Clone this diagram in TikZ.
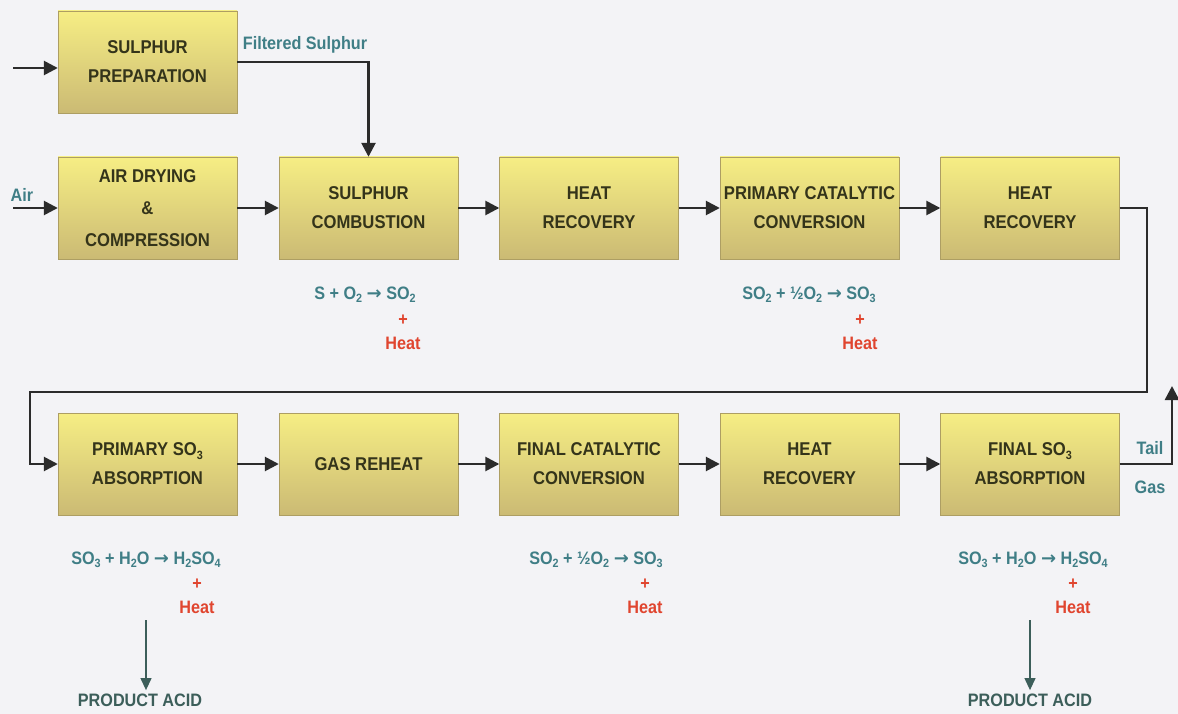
\documentclass[tikz,border=0pt]{standalone}
\usepackage{fontspec}
\setmainfont{Liberation Sans}[FakeStretch=0.9]
\newfontfamily\arrowfont{DejaVu Sans}
\usetikzlibrary{arrows.meta}

\definecolor{bgpaper}{HTML}{F3F3F6}
\definecolor{boxtop}{HTML}{F6EE84}
\definecolor{boxbottom}{HTML}{CBBA74}
\definecolor{boxink}{HTML}{34341A}
\definecolor{eqteal}{HTML}{3F7E86}
\definecolor{heatred}{HTML}{E0452F}
\definecolor{acidink}{HTML}{3C5E5A}
\definecolor{lineink}{HTML}{2B2B2B}

% small lowered index for formulas
\newcommand{\lowidx}[1]{\raisebox{-0.35ex}{\fontsize{12}{12}\selectfont #1}}
% reaction arrow
\newcommand{\yields}{{\arrowfont\bfseries →}}

\begin{document}
\begin{tikzpicture}[x=1pt,y=-1pt]
    % Style definitions
    \tikzset{
        % process box
        process/.style={rectangle, minimum width=179pt, minimum height=102pt,
            top color=boxtop, bottom color=boxbottom, draw=boxbottom!85!black,
            line width=0.4pt, align=center, text=boxink,
            font=\fontsize{18.5}{29}\selectfont\bfseries},
        % main gas flow
        flow/.style={draw=lineink, line width=2.6pt,
            -{Triangle[length=14pt,width=14pt]}},
        % acid drawn off
        acid flow/.style={draw=acidink, line width=1.2pt,
            -{Triangle[length=12pt,width=11pt]}},
        % texts
        stream label/.style={text=eqteal, font=\fontsize{18}{20}\selectfont\bfseries},
        eq text/.style={text=eqteal, font=\fontsize{18}{20}\selectfont\bfseries},
        heat text/.style={text=heatred, font=\fontsize{18}{20}\selectfont\bfseries},
        acid text/.style={text=acidink, font=\fontsize{18}{20}\selectfont\bfseries}
    }
    \fill[bgpaper] (0,0) rectangle (1178,714);
    \useasboundingbox (0,0) rectangle (1178,714);

    % Feed row
    \node[process] (prep) at (147.5,62) {SULPHUR\\PREPARATION};

    % First row of process boxes
    \node[process, font=\fontsize{18.5}{32}\selectfont\bfseries] (dry) at (147.5,208) {AIR DRYING\\\&\\COMPRESSION};
    \node[process] (comb) at (368.5,208) {SULPHUR\\COMBUSTION};
    \node[process] (hrA) at (589,208) {HEAT\\RECOVERY};
    \node[process] (convA) at (809.5,208) {PRIMARY CATALYTIC\\CONVERSION};
    \node[process] (hrB) at (1030,208) {HEAT\\RECOVERY};

    % Second row of process boxes
    \node[process] (absA) at (147.5,464) {PRIMARY SO\lowidx{3}\\ABSORPTION};
    \node[process] (reheat) at (368.5,464) {GAS REHEAT};
    \node[process] (convB) at (589,464) {FINAL CATALYTIC\\CONVERSION};
    \node[process] (hrC) at (809.5,464) {HEAT\\RECOVERY};
    \node[process] (absB) at (1030,464) {FINAL SO\lowidx{3}\\ABSORPTION};

    % Stream labels
    \node[stream label] (filtered) at (305,45) {Filtered Sulphur};
    \node[stream label] (air) at (22,195) {Air};
    \node[stream label] (tail) at (1150,448) {Tail};
    \node[stream label] (gas) at (1150,487) {Gas};

    % Reactions
    \node[eq text] (eqComb) at (365,295) {S + O\lowidx{2} \yields{} SO\lowidx{2}};
    \node[heat text] (plusComb) at (403,320) {+};
    \node[heat text] (heatComb) at (403,343) {Heat};

    \node[eq text] (eqConvA) at (809,295) {SO\lowidx{2} + ½O\lowidx{2} \yields{} SO\lowidx{3}};
    \node[heat text] (plusConvA) at (860,320) {+};
    \node[heat text] (heatConvA) at (860,343) {Heat};

    \node[eq text] (eqAbsA) at (146,560) {SO\lowidx{3} + H\lowidx{2}O \yields{} H\lowidx{2}SO\lowidx{4}};
    \node[heat text] (plusAbsA) at (197,584) {+};
    \node[heat text] (heatAbsA) at (197,607) {Heat};

    \node[eq text] (eqConvB) at (596,560) {SO\lowidx{2} + ½O\lowidx{2} \yields{} SO\lowidx{3}};
    \node[heat text] (plusConvB) at (645,584) {+};
    \node[heat text] (heatConvB) at (645,607) {Heat};

    \node[eq text] (eqAbsB) at (1033,560) {SO\lowidx{3} + H\lowidx{2}O \yields{} H\lowidx{2}SO\lowidx{4}};
    \node[heat text] (plusAbsB) at (1073,584) {+};
    \node[heat text] (heatAbsB) at (1073,607) {Heat};

    % Product acid
    \node[acid text] (prodA) at (140,700) {PRODUCT ACID};
    \node[acid text] (prodB) at (1030,700) {PRODUCT ACID};

    % Free ends of connectors
    \coordinate (sulIn) at (13,68);
    \coordinate (airIn) at (13,208);
    \coordinate (retR) at (1147,392);
    \coordinate (retL) at (30,392);
    \coordinate (tailOut) at (1172,386);
    \coordinate (dropA) at (146,620);
    \coordinate (dropB) at (1030,620);

    % Edges between nodes
    \draw[flow] (sulIn) -- (sulIn -| prep.west);
    \draw[flow] (prep.east) -| (comb.north);
    \draw[flow] (airIn) -- (dry);
    \draw[flow] (dry) -- (comb);
    \draw[flow] (comb) -- (hrA);
    \draw[flow] (hrA) -- (convA);
    \draw[flow] (convA) -- (hrB);

    \draw[flow] (hrB.east) -| (retR) -- (retL) |- (absA.west);

    \draw[flow] (absA) -- (reheat);
    \draw[flow] (reheat) -- (convB);
    \draw[flow] (convB) -- (hrC);
    \draw[flow] (hrC) -- (absB);
    \draw[flow] (absB.east) -| (tailOut);

    \draw[acid flow] (dropA) -- (dropA |- prodA.north);
    \draw[acid flow] (dropB) -- (prodB.north);
\end{tikzpicture}
\end{document}
